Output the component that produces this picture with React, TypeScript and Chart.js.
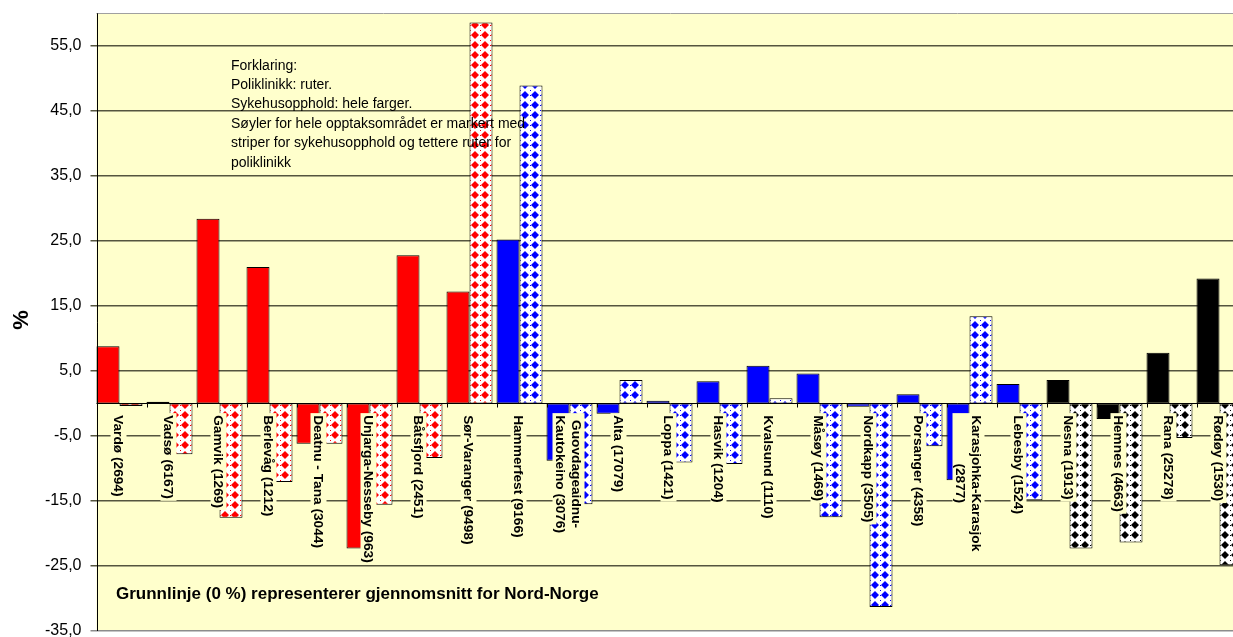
import React, { useEffect, useRef } from 'react';
import { Chart, registerables } from 'chart.js';

Chart.register(...registerables);

// ---------- data ----------
const categories: (string | string[])[] = [
  'Vardø (2694)',
  'Vadsø (6167)',
  'Gamvik (1269)',
  'Berlevåg (1212)',
  'Deatnu - Tana (3044)',
  'Unjarga-Nesseby (963)',
  'Båtsfjord (2451)',
  'Sør-Varanger (9498)',
  'Hammerfest (9166)',
  ['Guovdageaidnu-', 'Kautokeino (3076)'],
  'Alta (17079)',
  'Loppa (1421)',
  'Hasvik (1204)',
  'Kvalsund (1110)',
  'Måsøy (1469)',
  'Nordkapp (3505)',
  'Porsanger (4358)',
  ['Karasjohka-Karasjok', '(2877)'],
  'Lebesby (1524)',
  'Nesna (1913)',
  'Hemnes (4663)',
  'Rana (25278)',
  'Rødøy (1530)',
];

const regions = [
  'Øst-Finnmark', 'Øst-Finnmark', 'Øst-Finnmark', 'Øst-Finnmark', 'Øst-Finnmark', 'Øst-Finnmark', 'Øst-Finnmark', 'Øst-Finnmark',
  'Vest-Finnmark', 'Vest-Finnmark', 'Vest-Finnmark', 'Vest-Finnmark', 'Vest-Finnmark', 'Vest-Finnmark', 'Vest-Finnmark',
  'Vest-Finnmark', 'Vest-Finnmark', 'Vest-Finnmark', 'Vest-Finnmark',
  'Helgeland', 'Helgeland', 'Helgeland', 'Helgeland',
];

// Sykehusopphold (solid bars), % deviation
const hospitalStays = [
  8.8, 0.25, 28.4, 21.0, -6.2, -22.3, 22.8, 17.2,
  25.2, -8.8, -1.6, 0.4, 3.4, 5.8, 4.6, -0.5, 1.4, -11.8, 3.0,
  3.6, -2.4, 7.8, 19.2,
];

// Poliklinikk (diamond pattern bars), % deviation
const outpatient = [
  -0.4, -7.8, -17.6, -12.1, -6.2, -15.6, -8.4, 58.6,
  48.9, -15.5, 3.6, -9.1, -9.3, 0.8, -17.5, -31.3, -6.6, 13.4, -14.9,
  -22.3, -21.4, -5.3, -24.9,
];

const yTicks = [-35, -25, -15, -5, 5, 15, 25, 35, 45, 55];
const yMin = -35;
const yMax = 60;

const regionColors: Record<string, string> = {
  'Øst-Finnmark': '#FF0000',
  'Vest-Finnmark': '#0000FF',
  'Helgeland': '#000000',
};

const noteLines = [
  'Forklaring:',
  'Poliklinikk: ruter.',
  'Sykehusopphold: hele farger.',
  'Søyler for hele opptaksområdet er markert med',
  'striper for sykehusopphold og tettere ruter for',
  'poliklinikk',
];
const baselineNote = 'Grunnlinje (0 %) representerer gjennomsnitt for Nord-Norge';
const yTitle = '%';

// ---------- styling helpers ----------
const PLOT_BG = '#FFFFCC';
const GRID = '#55553f';
const FONT = '"Liberation Sans", Arial, sans-serif';
const CAT_PCT = 0.92;

function makePattern(color: string): CanvasPattern | string {
  const c = document.createElement('canvas');
  c.width = 10;
  c.height = 10;
  const g = c.getContext('2d');
  if (!g) return color;
  g.fillStyle = '#ffffff';
  g.fillRect(0, 0, 10, 10);
  g.fillStyle = color;
  g.beginPath();
  g.moveTo(5, 1);
  g.lineTo(9, 5);
  g.lineTo(5, 9);
  g.lineTo(1, 5);
  g.closePath();
  g.fill();
  g.fillRect(0, 0, 1, 1);
  g.fillRect(0, 5, 1, 1);
  return g.createPattern(c, 'repeat') || color;
}

const decorPlugin = {
  id: 'decor',
  beforeDraw(chart: any) {
    const { ctx, chartArea: a, scales } = chart;
    const x = scales.x;
    const step = x.getPixelForValue(1) - x.getPixelForValue(0);
    const axisX = x.getPixelForValue(0) - (step * CAT_PCT) / 2;
    ctx.save();
    ctx.fillStyle = '#ffffff';
    ctx.fillRect(0, 0, chart.width, chart.height);
    ctx.fillStyle = PLOT_BG;
    ctx.fillRect(axisX, a.top, a.right - axisX, a.bottom - a.top);
    ctx.restore();
  },
  afterDatasetsDraw(chart: any) {
    const { ctx, chartArea: a, scales } = chart;
    const x = scales.x;
    const y = scales.y;
    const step = x.getPixelForValue(1) - x.getPixelForValue(0);
    const half = (step * CAT_PCT) / 2;
    const axisX = x.getPixelForValue(0) - half;
    const y0 = y.getPixelForValue(0);
    ctx.save();

    // top border
    ctx.strokeStyle = '#a0a0a0';
    ctx.lineWidth = 1;
    ctx.beginPath();
    ctx.moveTo(axisX, Math.round(a.top) + 0.5);
    ctx.lineTo(a.right, Math.round(a.top) + 0.5);
    ctx.stroke();

    // zero (category) axis line with tick marks
    const zy = Math.round(y0) + 0.5;
    ctx.strokeStyle = '#000000';
    ctx.beginPath();
    ctx.moveTo(axisX, zy);
    ctx.lineTo(a.right, zy);
    for (let k = 0; k <= categories.length; k++) {
      const tx = Math.round(axisX + k * step) + 0.5;
      ctx.moveTo(tx, zy);
      ctx.lineTo(tx, zy + 4);
    }
    ctx.stroke();

    // value axis line
    ctx.beginPath();
    ctx.moveTo(Math.round(axisX) + 0.5, a.top);
    ctx.lineTo(Math.round(axisX) + 0.5, a.bottom);
    ctx.stroke();

    // category labels (rotated, with background)
    ctx.font = `bold 13.7px ${FONT}`;
    ctx.textBaseline = 'middle';
    ctx.textAlign = 'center';
    const lh = 16;
    categories.forEach((lab, i) => {
      const lines = Array.isArray(lab) ? lab : [lab];
      const cx = x.getPixelForValue(i) - 1;
      const maxW = Math.max(...lines.map((l) => ctx.measureText(l).width));
      ctx.save();
      ctx.translate(cx, y0 + 11.7);
      ctx.rotate(Math.PI / 2);
      ctx.fillStyle = PLOT_BG;
      ctx.fillRect(-2, -(lines.length * lh) / 2, maxW + 4, lines.length * lh);
      ctx.fillStyle = '#000000';
      lines.forEach((l, j) => {
        ctx.fillText(l, maxW / 2, (j - (lines.length - 1) / 2) * lh + 0.5);
      });
      ctx.restore();
    });

    // explanatory note
    ctx.font = `14px ${FONT}`;
    ctx.textAlign = 'left';
    ctx.fillStyle = '#000000';
    noteLines.forEach((l, i) => {
      ctx.fillText(l, 231, 65.7 + i * 19.45);
    });

    // baseline note
    ctx.font = `bold 17px ${FONT}`;
    ctx.fillText(baselineNote, 116, 594);

    // y title
    ctx.save();
    ctx.translate(22, 320);
    ctx.rotate(-Math.PI / 2);
    ctx.textAlign = 'center';
    ctx.font = `bold 22px ${FONT}`;
    ctx.fillText(yTitle, 0, 0);
    ctx.restore();

    ctx.restore();
  },
};

export default function App() {
  const ref = useRef<HTMLCanvasElement>(null);

  useEffect(() => {
    if (!ref.current) return;
    const solidColors = regions.map((r) => regionColors[r]);
    const patternCache: Record<string, CanvasPattern | string> = {};
    const patternColors = regions.map((r) => {
      if (!patternCache[r]) patternCache[r] = makePattern(regionColors[r]);
      return patternCache[r];
    });

    const chart = new Chart(ref.current, {
      type: 'bar',
      data: {
        labels: categories as any,
        datasets: [
          {
            label: 'Sykehusopphold',
            data: hospitalStays,
            backgroundColor: solidColors,
            borderColor: '#000000',
            borderWidth: 1,
            borderSkipped: false,
            categoryPercentage: CAT_PCT,
            barPercentage: 1,
          },
          {
            label: 'Poliklinikk',
            data: outpatient,
            backgroundColor: patternColors as any,
            borderColor: '#000000',
            borderWidth: 1,
            borderSkipped: false,
            categoryPercentage: CAT_PCT,
            barPercentage: 1,
          },
        ],
      },
      options: {
        responsive: false,
        animation: false,
        events: [],
        layout: { padding: { top: 13.3, bottom: 6, left: 0, right: 5.5 } },
        plugins: {
          legend: { display: false },
          tooltip: { enabled: false },
          title: { display: false },
        },
        scales: {
          x: { display: false },
          y: {
            min: yMin,
            max: yMax,
            afterBuildTicks: (s: any) => {
              s.ticks = yTicks.map((v) => ({ value: v }));
            },
            afterFit: (s: any) => {
              s.width = 94.5;
              s.paddingTop = 0;
              s.paddingBottom = 0;
            },
            ticks: {
              font: { family: FONT, size: 16 },
              color: '#000000',
              padding: 9,
              callback: (v: any) => Number(v).toFixed(1).replace('.', ','),
            },
            grid: {
              color: (c: any) => (c.tick && c.tick.value === -35 ? '#8c8c8c' : GRID),
              lineWidth: 1.5,
              tickLength: 4,
              drawTicks: true,
            },
            border: { display: false },
          },
        },
      },
      plugins: [decorPlugin],
    });
    return () => chart.destroy();
  }, []);

  return (
    <div
      style={{
        position: 'fixed',
        left: 0,
        top: 0,
        width: 1233,
        height: 637,
        overflow: 'hidden',
        background: '#ffffff',
      }}
    >
      <canvas ref={ref} width={1250} height={637} style={{ display: 'block', width: 1250, height: 637 }} />
    </div>
  );
}
